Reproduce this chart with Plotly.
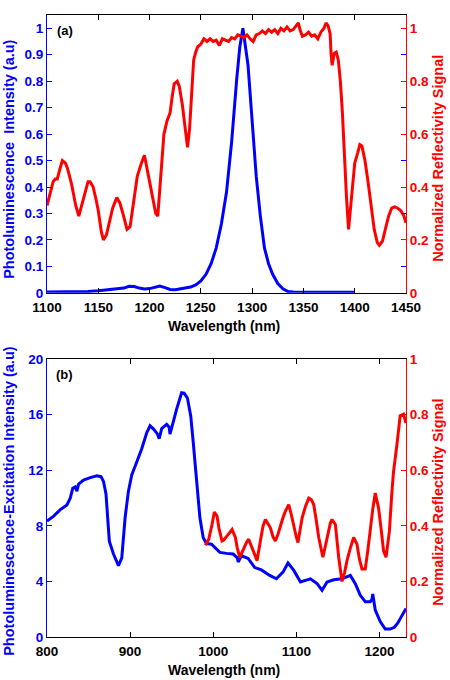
import plotly.graph_objects as go

# ---------------- Panel (a) data ----------------
wl_pl_a = [1100, 1110, 1120, 1130, 1140, 1150, 1160, 1170, 1175, 1180,
           1185, 1190, 1195, 1200, 1205, 1210, 1215, 1220, 1225, 1230,
           1235, 1240, 1245, 1250, 1255, 1260, 1265, 1270, 1275, 1280,
           1285, 1288, 1291, 1293, 1296, 1300, 1304, 1308, 1312, 1316,
           1320, 1325, 1330, 1335, 1340, 1350, 1360, 1370, 1380, 1390, 1400]
pl_a = [0.003, 0.003, 0.004, 0.004, 0.005, 0.008, 0.011, 0.014, 0.018, 0.025,
        0.024, 0.018, 0.015, 0.016, 0.022, 0.026, 0.020, 0.013, 0.012, 0.016,
        0.020, 0.022, 0.030, 0.045, 0.070, 0.110, 0.170, 0.260, 0.380, 0.570,
        0.810, 0.930, 1.000, 0.950, 0.860, 0.650, 0.440, 0.290, 0.170, 0.110,
        0.070, 0.035, 0.015, 0.005, 0.003, 0.002, 0.002, 0.002, 0.002, 0.002, 0.002]

wl_refl_a = [1100, 1103, 1106, 1108, 1110, 1112, 1115, 1118, 1120, 1124,
             1128, 1131, 1134, 1137, 1140, 1142, 1145, 1148, 1150, 1153,
             1155, 1158, 1161, 1164, 1168, 1171, 1174, 1178, 1181, 1184,
             1188, 1192, 1195, 1198, 1200, 1203, 1206, 1208, 1210, 1212,
             1214, 1217, 1220, 1222, 1224, 1227, 1229, 1232, 1235, 1237,
             1239, 1241, 1243, 1245, 1247, 1250, 1253, 1256, 1259, 1262,
             1265, 1268, 1271, 1274, 1277, 1280, 1283, 1286, 1289, 1292,
             1295, 1298, 1301, 1304, 1307, 1310, 1313, 1316, 1319, 1322,
             1325, 1328, 1331, 1334, 1337, 1340, 1343, 1345, 1347, 1349,
             1352, 1355, 1358, 1361, 1364, 1367, 1370, 1372, 1374, 1376,
             1377, 1378, 1380, 1382, 1384, 1386, 1388, 1390, 1392, 1394,
             1396, 1398, 1400, 1403, 1405, 1407, 1410, 1413, 1416, 1419,
             1422, 1424, 1427, 1430, 1433, 1436, 1439, 1442, 1445, 1448, 1450]
refl_a = [.33, .38, .42, .43, .43, .46, .50, .49, .47, .41,
          .33, .29, .33, .38, .42, .42, .40, .35, .31, .23,
          .20, .22, .27, .32, .36, .34, .30, .24, .25, .33,
          .44, .49, .52, .46, .42, .37, .30, .29, .40, .53,
          .60, .65, .68, .74, .79, .80, .78, .71, .62, .55,
          .62, .77, .88, .91, .93, .94, .96, .95, .96, .95,
          .955, .935, .96, .955, .95, .965, .96, .975, .97, .965,
          .975, .96, .95, .975, .98, .99, .98, .995, .985, .995,
          .98, 1.0, .99, 1.005, .99, .995, 1.01, 1.02, .99, .97,
          .975, .985, .97, .975, .96, .985, 1.0, 1.02, 1.01, .98,
          .90, .86, .905, .91, .88, .80, .68, .50, .36, .24,
          .33, .42, .49, .53, .56, .555, .50, .42, .33, .24,
          .19, .18, .195, .24, .29, .32, .325, .32, .31, .29, .265]

# ---------------- Panel (b) data ----------------
wl_ple_b = [800, 808, 816, 824, 828, 831, 834, 836, 838, 844,
            852, 860, 865, 868, 871, 873, 875, 880, 886, 890,
            894, 898, 902, 908, 914, 920, 924, 928, 933, 935,
            938, 944, 947, 948, 950, 952, 956, 962, 965, 969,
            973, 976, 980, 984, 988, 992, 998, 1008, 1016, 1024,
            1029, 1030, 1034, 1042, 1050, 1058, 1068, 1076, 1084, 1090,
            1097, 1105, 1117, 1125, 1131, 1137, 1145, 1155, 1165, 1171,
            1177, 1183, 1189, 1191, 1192, 1193, 1195, 1201, 1207, 1213,
            1218, 1222, 1227, 1232]
ple_b = [8.34, 8.7, 9.17, 9.5, 10.0, 10.7, 10.8, 10.5, 11.0, 11.3,
         11.47, 11.6, 11.54, 11.2, 10.3, 8.6, 6.9, 5.97, 5.14, 5.7,
         8.6, 10.5, 11.66, 12.6, 13.55, 14.7, 15.2, 14.98, 14.6, 14.27,
         15.0, 15.3, 15.1, 14.6, 15.1, 15.45, 16.4, 17.58, 17.55, 17.2,
         15.9, 14.0, 11.2, 8.58, 7.15, 6.73, 6.68, 6.09, 6.02, 5.97,
         5.7, 5.4, 5.85, 5.66, 5.0, 4.83, 4.43, 4.19, 4.67, 5.33,
         4.79, 3.96, 4.19, 3.84, 3.36, 3.96, 4.12, 4.19, 4.43, 3.84,
         3.0, 2.54, 2.54, 2.7, 3.1, 2.7, 1.94, 1.11, 0.57, 0.57,
         0.7, 1.0, 1.5, 2.06]

wl_refl_b = [990.6, 994.6, 998.6, 1001.4, 1004.6, 1007, 1010.6, 1013, 1016.7, 1022.7,
             1026.7, 1029, 1032, 1036.7, 1040, 1042.7, 1046.7, 1050, 1052.8, 1056.8,
             1060, 1062.8, 1065, 1068.8, 1072, 1074.8, 1078, 1080.8, 1084, 1086.9,
             1090.9, 1094, 1097, 1100, 1102, 1107, 1111, 1115, 1118, 1121,
             1124, 1127, 1132, 1137, 1141, 1143, 1147, 1151, 1155, 1158,
             1161, 1165, 1169, 1173, 1176, 1179, 1183, 1186, 1189, 1192,
             1195, 1199, 1202, 1205, 1208, 1212, 1215, 1217, 1221, 1225,
             1229, 1232]
refl_b = [.33, .352, .405, .45, .435, .39, .346, .35, .364, .387,
          .358, .32, .287, .322, .34, .352, .322, .29, .275, .346,
          .40, .423, .41, .393, .36, .346, .37, .40, .43, .453,
          .476, .44, .393, .36, .34, .429, .47, .50, .495, .476,
          .42, .358, .287, .358, .41, .423, .405, .287, .20, .23,
          .275, .32, .358, .334, .28, .245, .245, .31, .393, .46,
          .518, .464, .39, .31, .287, .38, .52, .595, .69, .796,
          .802, .77]

xticks_a = [1100, 1150, 1200, 1250, 1300, 1350, 1400, 1450]
xticks_b = [800, 900, 1000, 1100, 1200]
yticks_a_left = [0, 0.1, 0.2, 0.3, 0.4, 0.5, 0.6, 0.7, 0.8, 0.9, 1]
yticks_right = [0, 0.2, 0.4, 0.6, 0.8, 1]
yticks_b_left = [0, 4, 8, 12, 16, 20]

BLUE = "rgb(0,0,255)"
RED = "rgb(255,0,0)"
FONT = "Liberation Sans, Arial, sans-serif"

fig = go.Figure()
fig.add_trace(go.Scatter(x=wl_refl_a, y=refl_a, xaxis="x", yaxis="y2", mode="lines",
                         line=dict(color=RED, width=3)))
fig.add_trace(go.Scatter(x=wl_pl_a, y=pl_a, xaxis="x", yaxis="y", mode="lines",
                         line=dict(color=BLUE, width=3)))
fig.add_trace(go.Scatter(x=wl_ple_b, y=ple_b, xaxis="x2", yaxis="y3", mode="lines",
                         line=dict(color=BLUE, width=3)))
fig.add_trace(go.Scatter(x=wl_refl_b, y=refl_b, xaxis="x2", yaxis="y4", mode="lines",
                         line=dict(color=RED, width=3)))

tickfont_k = dict(family=FONT, size=13.5, color="black", weight="bold")
tickfont_b = dict(family=FONT, size=13.5, color=BLUE, weight="bold")
tickfont_r = dict(family=FONT, size=13.5, color=RED, weight="bold")

common_x = dict(showgrid=False, zeroline=False, showline=True, linecolor="black",
                linewidth=1, mirror="ticks", ticks="inside", ticklen=5,
                tickcolor="black", tickfont=tickfont_k, ticklabelstandoff=2)
common_y = dict(showgrid=False, zeroline=False, showline=True, linewidth=1,
                ticks="inside", ticklen=5)

fig.update_layout(
    width=450, height=680,
    margin=dict(l=47, r=44, t=8, b=43),
    paper_bgcolor="white", plot_bgcolor="white",
    showlegend=False,
    xaxis=dict(domain=[0, 1], anchor="y", range=[1100, 1450], tickvals=xticks_a, **common_x),
    yaxis=dict(domain=[0.5533, 1], anchor="x", range=[0, 1.05], tickvals=yticks_a_left,
               linecolor=BLUE, tickcolor=BLUE, tickfont=tickfont_b, mirror="ticks", **common_y),
    yaxis2=dict(overlaying="y", side="right", anchor="x", range=[0, 1.05], tickvals=yticks_right,
                linecolor=RED, tickcolor=RED, tickfont=tickfont_r, **common_y),
    xaxis2=dict(domain=[0, 1], anchor="y3", range=[800, 1232], tickvals=xticks_b, **common_x),
    yaxis3=dict(domain=[0, 0.4467], anchor="x2", range=[0, 20], tickvals=yticks_b_left,
                linecolor=BLUE, tickcolor=BLUE, tickfont=tickfont_b, mirror="ticks", **common_y),
    yaxis4=dict(overlaying="y3", side="right", anchor="x2", range=[0, 1], tickvals=yticks_right,
                linecolor=RED, tickcolor=RED, tickfont=tickfont_r, **common_y),
)

ann = []
def add_text(text, x, y, xref, yref, color="black", size=14, angle=0, xanchor="center"):
    ann.append(dict(text="<b>" + text + "</b>", x=x, y=y, xref=xref, yref=yref,
                    showarrow=False, textangle=angle, xanchor=xanchor, yanchor="middle",
                    font=dict(family=FONT, size=size, color=color)))

# panel (a)
add_text("(a)", 0.022, 0.946, "x domain", "y domain", size=13, xanchor="left")
add_text("Wavelength (nm)", 0.492, -0.118, "x domain", "y domain", size=14)
add_text("Photoluminescence  Intensity (a.u)", -0.106, 0.482, "x domain", "y domain",
         color=BLUE, size=14.5, angle=-90)
add_text("Normalized Reflectivity Signal", 1.089, 0.486, "x domain", "y domain",
         color=RED, size=14.5, angle=-90)
# panel (b)
add_text("(b)", 0.02, 0.946, "x2 domain", "y3 domain", size=13, xanchor="left")
add_text("Wavelength (nm)", 0.492, -0.118, "x2 domain", "y3 domain", size=14)
add_text("Photoluminescence-Excitation Intensity (a.u)", -0.106, 0.49, "x2 domain", "y3 domain",
         color=BLUE, size=14.5, angle=-90)
add_text("Normalized Reflectivity Signal", 1.089, 0.487, "x2 domain", "y3 domain",
         color=RED, size=14.5, angle=-90)
fig.update_layout(annotations=ann)

fig.write_html("out.html")
